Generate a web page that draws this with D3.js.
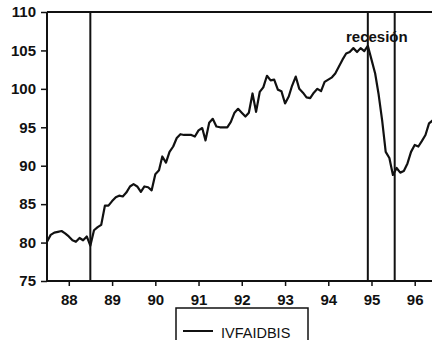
<!DOCTYPE html>
<html>
<head>
<meta charset="utf-8">
<script src="https://cdn.jsdelivr.net/npm/d3@7"></script>
<style>
  html, body { margin: 0; padding: 0; background: #fff; }
  svg { display: block; }
  text { font-family: "Liberation Sans", Arial, sans-serif; fill: #111; }
</style>
</head>
<body>
<svg id="chart" width="432" height="340"></svg>
<script>
// Monthly index IVFAIDBIS, July 1987 onward
const startYear = 1987, startMonth = 6; // July (0-based)
const ivfaidbis = [
  80.1, 81.0, 81.3, 81.4, 81.5, 81.2, 80.8, 80.3, 80.1, 80.6, 80.3, 80.8,
  79.6, 81.6, 82.0, 82.3, 84.8, 84.8, 85.4, 85.9, 86.1, 86.0, 86.5, 87.3,
  87.6, 87.3, 86.6, 87.3, 87.2, 86.8, 88.9, 89.4, 91.2, 90.4, 91.8, 92.5,
  93.6, 94.1, 94.0, 94.0, 94.0, 93.8, 94.6, 94.9, 93.3, 95.6, 96.1, 95.1,
  95.0, 95.0, 95.0, 95.7, 96.9, 97.4, 96.9, 96.4, 96.9, 99.4, 97.0, 99.6,
  100.2, 101.7, 101.1, 101.2, 99.9, 99.7, 98.1, 99.0, 100.4, 101.6, 100.0, 99.5,
  98.9, 98.8, 99.5, 100.0, 99.7, 100.9, 101.2, 101.5, 102.0, 102.9, 103.8, 104.6,
  104.8, 105.3, 104.8, 105.3, 104.9, 105.6, 103.8, 102.0, 99.4, 95.9, 91.8, 91.0,
  88.8, 89.7, 89.1, 89.3, 90.3, 91.8, 92.7, 92.5, 93.2, 94.0, 95.5, 95.9
];
const yearTicks = [1988, 1989, 1990, 1991, 1992, 1993, 1994, 1995, 1996];
const yTicks = [75, 80, 85, 90, 95, 100, 105, 110];
// Vertical reference lines: [year, month (0-based), day]
const markerDates = [[1988, 6, 1], [1994, 11, 1], [1995, 6, 16]];
const annotation = "recesión";
const seriesName = "IVFAIDBIS";

const svg = d3.select("#chart");
const W = 432;
const mLeft = 47, mTop = 12, mBottom = 281;
const yearPx = 43.25;

const x = d3.scaleTime()
  .domain([new Date(1987, 6, 1), new Date(1996, 6, 1)])
  .range([mLeft, mLeft + 9 * yearPx]);
const y = d3.scaleLinear().domain([75, 110]).range([mBottom, mTop]);

const data = ivfaidbis.map((v, i) => ({ date: new Date(startYear, startMonth + i, 1), value: v }));

const plot = svg.append("g");
plot.append("clipPath").attr("id", "clip")
  .append("rect").attr("x", mLeft).attr("y", mTop - 2).attr("width", W - mLeft).attr("height", mBottom - mTop + 4);

// Data line
plot.append("path")
  .datum(data)
  .attr("clip-path", "url(#clip)")
  .attr("fill", "none")
  .attr("stroke", "#111")
  .attr("stroke-width", 2.2)
  .attr("stroke-linejoin", "round")
  .attr("d", d3.line().x(d => x(d.date)).y(d => y(d.value)));

// Vertical reference lines
plot.selectAll("line.marker")
  .data(markerDates)
  .join("line")
  .attr("class", "marker")
  .attr("x1", d => x(new Date(d[0], d[1], d[2])))
  .attr("x2", d => x(new Date(d[0], d[1], d[2])))
  .attr("y1", mTop).attr("y2", mBottom)
  .attr("stroke", "#111").attr("stroke-width", 2);

// Axes
const yAxis = d3.axisLeft(y).tickValues(yTicks).tickSize(6).tickPadding(5);
const gy = svg.append("g").attr("transform", `translate(${mLeft},0)`).call(yAxis);
gy.select(".domain").remove();
gy.selectAll("line").attr("stroke", "#111").attr("stroke-width", 1.5);
gy.selectAll("text").style("font-size", "15px").style("font-weight", "bold");

const xAxis = d3.axisBottom(x)
  .tickValues(yearTicks.map(yr => new Date(yr, 0, 1)))
  .tickFormat(d3.timeFormat("%y"))
  .tickSize(5).tickPadding(8.5);
const gx = svg.append("g").attr("transform", `translate(0,${mBottom})`).call(xAxis);
gx.select(".domain").remove();
gx.selectAll("line").attr("stroke", "#111").attr("stroke-width", 1.5);
gx.selectAll("text").style("font-size", "15px").style("font-weight", "bold");

// Frame: left axis, bottom axis, top border
svg.append("line").attr("x1", mLeft).attr("x2", mLeft).attr("y1", mTop).attr("y2", mBottom)
  .attr("stroke", "#111").attr("stroke-width", 2);
svg.append("line").attr("x1", mLeft).attr("x2", W).attr("y1", mBottom).attr("y2", mBottom)
  .attr("stroke", "#111").attr("stroke-width", 2);
svg.append("line").attr("x1", mLeft).attr("x2", W).attr("y1", mTop).attr("y2", mTop)
  .attr("stroke", "#111").attr("stroke-width", 2);

// Annotation
svg.append("text")
  .attr("x", 346).attr("y", 41.5)
  .style("font-size", "15px").style("font-weight", "bold")
  .text(annotation);

// Legend
const lg = svg.append("g");
lg.append("rect").attr("x", 176).attr("y", 308).attr("width", 132).attr("height", 50)
  .attr("fill", "none").attr("stroke", "#111").attr("stroke-width", 1.5);
lg.append("line").attr("x1", 183).attr("x2", 213).attr("y1", 331).attr("y2", 331)
  .attr("stroke", "#111").attr("stroke-width", 2);
lg.append("text").attr("x", 221).attr("y", 338)
  .style("font-size", "14.5px")
  .text(seriesName);
</script>
</body>
</html>
